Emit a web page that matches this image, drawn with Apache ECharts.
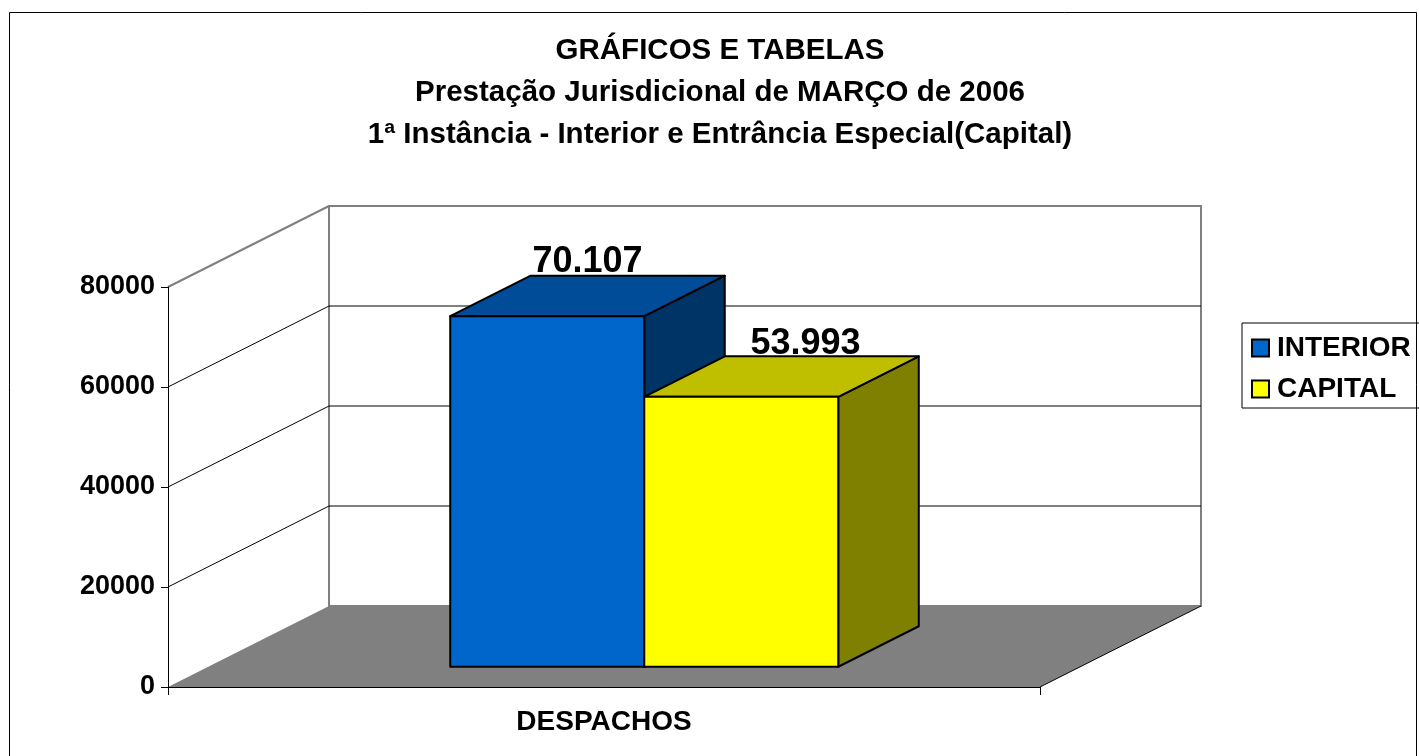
<!DOCTYPE html>
<html>
<head>
<meta charset="utf-8">
<script src="https://cdn.jsdelivr.net/npm/echarts@6/dist/echarts.min.js"></script>
<style>html,body{margin:0;padding:0;background:#fff}#main{width:1419px;height:756px}</style>
</head>
<body>
<div id="main"></div>
<script>
const categories = ['DESPACHOS'];
const seriesNames = ['INTERIOR', 'CAPITAL'];
const interiorValues = [70107];
const capitalValues = [53993];
const yTicks = [0, 20000, 40000, 60000, 80000];
const titleLines = [
  'GRÁFICOS E TABELAS',
  'Prestação Jurisdicional de MARÇO de 2006',
  '1ª Instância - Interior e Entrância Especial(Capital)'
];

const FONT = '"Liberation Sans", Arial, sans-serif';
// deslocamento da profundidade (parede do fundo)
const DX = 161, DY = -81;
const BAR_W = 0.2225; // largura de cada barra, fração da categoria

function fmt(v) {
  return String(v).replace(/\B(?=(\d{3})+(?!\d))/g, '.');
}

// paredes, chão e linhas de grade em 3D
function renderFrame(params, api) {
  const cs = params.coordSys;
  const x0 = cs.x, x1 = cs.x + cs.width;
  const top = yTicks[yTicks.length - 1];
  const y0 = api.coord([0, 0])[1];
  const yTop = api.coord([0, top])[1];
  const children = [];
  children.push({
    type: 'rect',
    shape: { x: x0 + DX, y: yTop + DY, width: x1 - x0, height: y0 - yTop },
    style: { fill: '#fff', stroke: '#808080', lineWidth: 2 }
  });
  yTicks.forEach(function (v) {
    if (v === 0 || v === top) return;
    const y = api.coord([0, v])[1];
    children.push({
      type: 'polyline',
      shape: { points: [[x0, y], [x0 + DX, y + DY], [x1 + DX, y + DY]] },
      style: { stroke: '#000', lineWidth: 1, fill: null }
    });
  });
  children.push({
    type: 'line',
    shape: { x1: x0, y1: yTop, x2: x0 + DX, y2: yTop + DY },
    style: { stroke: '#808080', lineWidth: 2 }
  });
  children.push({
    type: 'polygon',
    shape: { points: [[x0, y0], [x1, y0], [x1 + DX, y0 + DY], [x0 + DX, y0 + DY]] },
    style: { fill: '#808080' }
  });
  children.push({
    type: 'line',
    shape: { x1: x1, y1: y0, x2: x1 + DX, y2: y0 + DY },
    style: { stroke: '#000', lineWidth: 1 }
  });
  return { type: 'group', children: children };
}

function makeBar(name, values, idx, colors, labelShift) {
  return {
    type: 'custom',
    name: name,
    data: values.map(function (v, i) { return [i, v]; }),
    itemStyle: { color: colors.front, borderColor: '#000', borderWidth: 2 },
    renderItem: function (params, api) {
      const cat = api.value(0), val = api.value(1);
      const base = api.coord([cat, 0]);
      const tp = api.coord([cat, val]);
      const w = api.size([1, 0])[0] * BAR_W;
      const fx = base[0] + (idx - 1) * w + DX * 0.25;
      const fyb = base[1] + DY * 0.25;
      const fyt = tp[1] + DY * 0.25;
      const bx = DX * 0.5, by = DY * 0.5;
      const line = { stroke: '#000', lineWidth: 2, lineJoin: 'round' };
      return {
        type: 'group',
        children: [
          {
            type: 'polygon',
            shape: { points: [[fx + w, fyt], [fx + w + bx, fyt + by], [fx + w + bx, fyb + by], [fx + w, fyb]] },
            style: Object.assign({ fill: colors.side }, line)
          },
          {
            type: 'polygon',
            shape: { points: [[fx, fyt], [fx + w, fyt], [fx + w + bx, fyt + by], [fx + bx, fyt + by]] },
            style: Object.assign({ fill: colors.top }, line)
          },
          {
            type: 'rect',
            shape: { x: fx, y: fyt, width: w, height: fyb - fyt },
            style: Object.assign({ fill: colors.front }, line)
          },
          {
            type: 'text',
            x: fx + w / 2 + bx / 2 + labelShift[0],
            y: fyt + by + labelShift[1],
            style: {
              text: fmt(val),
              font: 'bold 36px ' + FONT,
              fill: '#000',
              align: 'center',
              verticalAlign: 'middle'
            }
          }
        ]
      };
    }
  };
}

const chart = echarts.init(document.getElementById('main'));
chart.setOption({
  backgroundColor: '#fff',
  animation: false,
  title: {
    text: titleLines.join('\n'),
    left: 720,
    top: 30,
    textAlign: 'center',
    padding: 0,
    textStyle: { fontFamily: FONT, fontWeight: 'bold', fontSize: 29.5, lineHeight: 42, color: '#000' }
  },
  legend: {
    data: seriesNames,
    orient: 'vertical',
    left: 1242,
    top: 323,
    padding: [11, 12, 5, 9],
    itemGap: 13,
    itemWidth: 17,
    itemHeight: 17,
    icon: 'rect',
    borderColor: '#000',
    borderWidth: 1,
    itemStyle: { borderColor: '#000', borderWidth: 2 },
    textStyle: { fontFamily: FONT, fontWeight: 'bold', fontSize: 28, color: '#000', padding: [0, 0, 0, 3] }
  },
  graphic: [{
    type: 'rect',
    shape: { x: 9.5, y: 12.5, width: 1407, height: 760 },
    style: { fill: null, stroke: '#000', lineWidth: 1 },
    silent: true
  }],
  grid: { left: 168, right: 379, top: 287, bottom: 69, outerBoundsMode: 'none' },
  xAxis: {
    type: 'category',
    data: categories,
    z: 5,
    axisLine: { lineStyle: { color: '#000', width: 1 } },
    axisTick: { show: true, length: 8, lineStyle: { color: '#000' } },
    axisLabel: { margin: 21, fontFamily: FONT, fontWeight: 'bold', fontSize: 28, color: '#000' },
    splitLine: { show: false }
  },
  yAxis: {
    type: 'value',
    min: 0,
    max: 80000,
    interval: 20000,
    z: 5,
    axisLine: { show: true, lineStyle: { color: '#000', width: 1 } },
    axisTick: { show: true, length: 7, lineStyle: { color: '#000' } },
    axisLabel: {
      margin: 13,
      fontFamily: FONT,
      fontWeight: 'bold',
      fontSize: 27,
      color: '#000',
      formatter: function (v) { return String(v); }
    },
    splitLine: { show: false }
  },
  series: [
    {
      type: 'custom',
      name: 'frame',
      silent: true,
      data: categories.map(function (c, i) { return [i, 0]; }),
      renderItem: renderFrame
    },
    makeBar(seriesNames[0], interiorValues, 0, { front: '#0066CC', top: '#004C99', side: '#003366' }, [0, -14]),
    makeBar(seriesNames[1], capitalValues, 1, { front: '#FFFF00', top: '#BFBF00', side: '#808000' }, [24, -12])
  ]
});
</script>
</body>
</html>
